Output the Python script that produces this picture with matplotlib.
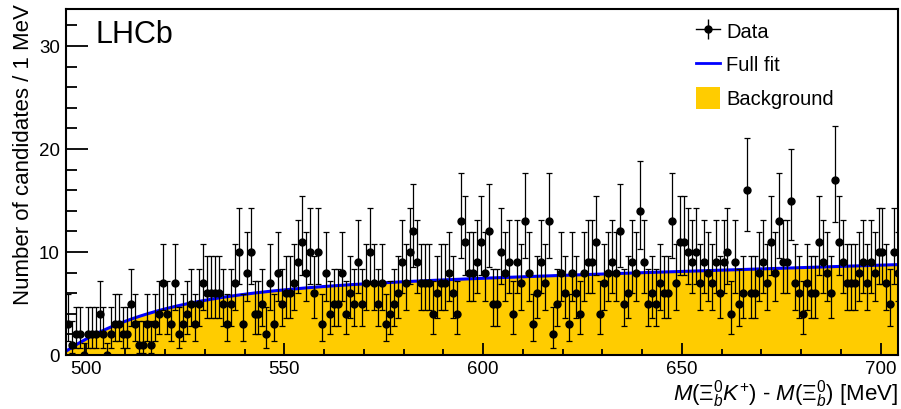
import math
import numpy as np
import matplotlib
matplotlib.use('Agg')
import matplotlib.pyplot as plt
from matplotlib.lines import Line2D
from matplotlib.patches import Patch
from matplotlib.legend_handler import HandlerTuple

plt.rcParams['font.family'] = ['Liberation Sans', 'DejaVu Sans']
plt.rcParams['mathtext.fontset'] = 'custom'
plt.rcParams['mathtext.rm'] = 'Liberation Sans'
plt.rcParams['mathtext.it'] = 'Liberation Sans:italic'

# candidates per 1 MeV bin, first bin is 495-496 MeV
counts = [3, 1, 2, 2, 0, 2, 2, 2, 4, 2, 0, 2, 3, 3, 2, 2, 5, 3, 1, 1,
          3, 1, 3, 4, 7, 4, 3, 7, 2, 3, 4, 5, 3, 5, 7, 6, 6, 6, 6, 5,
          3, 5, 7, 10, 3, 8, 10, 4, 4, 5, 2, 7, 3, 8, 5, 6, 6, 7, 9, 11,
          8, 10, 6, 10, 3, 8, 4, 5, 5, 8, 4, 6, 5, 9, 5, 7, 10, 7, 5, 7,
          3, 4, 5, 6, 9, 7, 10, 12, 9, 7, 7, 7, 4, 6, 7, 7, 8, 6, 4, 13,
          11, 8, 8, 9, 11, 8, 12, 5, 5, 10, 8, 9, 4, 9, 7, 13, 8, 3, 6, 9,
          7, 13, 2, 5, 8, 6, 3, 8, 6, 4, 8, 9, 9, 11, 4, 7, 8, 9, 8, 12,
          5, 6, 9, 8, 14, 9, 5, 6, 5, 7, 6, 6, 13, 7, 11, 11, 10, 9, 10, 7,
          9, 8, 7, 9, 6, 9, 10, 4, 9, 5, 6, 16, 6, 6, 8, 9, 7, 11, 8, 13,
          9, 9, 15, 7, 6, 4, 7, 6, 6, 11, 9, 8, 6, 17, 11, 9, 7, 7, 7, 8,
          9, 7, 9, 8, 10, 10, 7, 5, 10, 8]
bin_lo = 495.0
bin_width = 1.0

# fit shape: turn-on above the m(K+) threshold plus a linear rise
m_thr = 493.68
fit_plateau = 6.25
fit_turnon = 24.0
fit_slope = 0.012


def bkg(m):
    d = np.clip(m - m_thr, 0, None)
    return fit_plateau * (1 - np.exp(-d / fit_turnon)) + fit_slope * d


def pois_cdf(n, mu):
    return sum(math.exp(-mu + k * math.log(mu) - math.lgamma(k + 1)) for k in range(n + 1))


def bisect(f, lo, hi):
    for _ in range(60):
        mid = 0.5 * (lo + hi)
        if f(lo) * f(mid) <= 0:
            hi = mid
        else:
            lo = mid
    return 0.5 * (lo + hi)


def pois_interval(n, cl=0.6827):
    # central Poisson interval, one-sided for empty bins
    if n == 0:
        return 0.0, -math.log(1 - cl)
    a = 0.5 * (1 - cl)
    up = bisect(lambda mu: pois_cdf(n, mu) - a, n, n + 10 * math.sqrt(n) + 10)
    dn = bisect(lambda mu: pois_cdf(n - 1, mu) - (1 - a), 1e-6, n)
    return dn, up


x = bin_lo + bin_width * (np.arange(len(counts)) + 0.5)
y = np.array(counts, dtype=float)
ints = [pois_interval(n) for n in counts]
err_lo = y - np.array([i[0] for i in ints])
err_hi = np.array([i[1] for i in ints]) - y

fig = plt.figure(figsize=(9.01, 4.09), dpi=100)
ax = fig.add_axes([66 / 901, 1 - 355 / 409, 832 / 901, 346 / 409])

mm = np.linspace(495, 706, 600)
ax.fill_between(mm, 0, bkg(mm), color='#ffcc00', lw=0, zorder=1)
ax.plot(mm, bkg(mm), color='blue', lw=2.2, zorder=2)
ax.errorbar(x, y, yerr=[err_lo, err_hi], fmt='o', color='black', ms=5,
            elinewidth=0.9, capsize=2.4, capthick=0.9, zorder=3)

ax.set_xlim(495.07, 704.4)
ax.set_ylim(0, 33.6)
ax.set_xticks([500, 550, 600, 650, 700])
ax.set_xticks(np.arange(500, 705, 10), minor=True)
ax.set_yticks([0, 10, 20, 30])
ax.set_yticks(np.arange(0, 33, 2), minor=True)
ax.tick_params(which='both', direction='in', width=1.3, labelsize=13.5)
ax.tick_params(axis='x', which='major', length=8.6, pad=4.5)
ax.tick_params(axis='x', which='minor', length=4.5)
ax.tick_params(axis='y', which='major', length=16, pad=4.5)
ax.tick_params(axis='y', which='minor', length=8)
for s in ax.spines.values():
    s.set_linewidth(1.5)

ax.set_ylabel('Number of candidates / 1 MeV', fontsize=16, loc='top')
ax.yaxis.set_label_coords(-0.038, 1.015)
ax.set_xlabel(r'$M(\mathit{\Xi}^{\mathit{0}}_{b}K^{+})$ - $M(\mathit{\Xi}^{\mathit{0}}_{b})$ [MeV]',
              fontsize=16, loc='right')
ax.xaxis.set_label_coords(1.0, -0.068)

ax.text(0.035, 0.902, 'LHCb', fontsize=22, transform=ax.transAxes, va='baseline')

h_data = (Line2D([], [], color='black', lw=1, marker='o', ms=5),
          Line2D([], [], color='black', ls='none', marker='|', ms=14, mew=1))
h_fit = Line2D([], [], color='blue', lw=2)
h_bkg = Patch(facecolor='#ffcc00', edgecolor='none')
ax.legend([h_data, h_fit, h_bkg], ['Data', 'Full fit', 'Background'],
          handler_map={tuple: HandlerTuple(ndivide=1)},
          loc='upper left', bbox_to_anchor=(0.757, 0.967), frameon=False,
          fontsize=14.5, borderpad=0, handlelength=1.2, handleheight=1.25,
          handletextpad=0.3, labelspacing=0.6, borderaxespad=0)

fig.savefig('out.png', dpi=100)
